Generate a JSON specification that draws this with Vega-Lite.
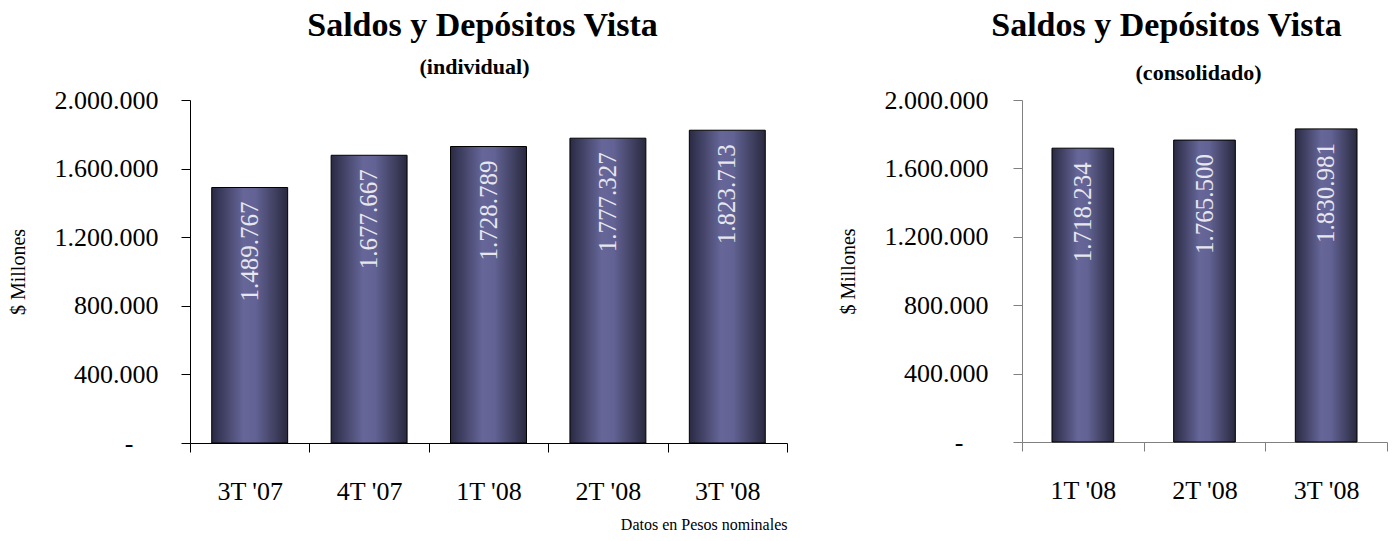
{
  "$schema": "https://vega.github.io/schema/vega-lite/v6.json",
  "background": "white",
  "padding": {"left": 8, "top": 9, "right": 5, "bottom": 5},
  "bounds": "flush",
  "spacing": 235,
  "config": {
    "locale": {"number": {"decimal": ",", "thousands": ".", "grouping": [3], "currency": ["$", ""]}},
    "view": {"stroke": null},
    "font": "Liberation Serif"
  },
  "datasets": {
    "individual": [
      {"periodo": "3T '07", "saldo": 1489767},
      {"periodo": "4T '07", "saldo": 1677667},
      {"periodo": "1T '08", "saldo": 1728789},
      {"periodo": "2T '08", "saldo": 1777327},
      {"periodo": "3T '08", "saldo": 1823713}
    ],
    "consolidado": [
      {"periodo": "1T '08", "saldo": 1718234},
      {"periodo": "2T '08", "saldo": 1765500},
      {"periodo": "3T '08", "saldo": 1830981}
    ]
  },
  "hconcat": [
    {
      "width": 597,
      "height": 343,
      "data": {"name": "individual"},
      "title": {
        "text": "Saldos y Depósitos Vista",
        "subtitle": "(individual)\u2800",
        "font": "Liberation Serif",
        "subtitleFont": "Liberation Serif",
        "fontSize": 34,
        "subtitleFontSize": 22,
        "fontWeight": "bold",
        "subtitleFontWeight": "bold",
        "color": "black",
        "subtitleColor": "black",
        "anchor": "middle",
        "dx": -6,
        "offset": 9,
        "subtitlePadding": 14
      },
      "encoding": {
        "x": {
          "field": "periodo",
          "type": "nominal",
          "sort": null,
          "scale": {"paddingInner": 0, "paddingOuter": 0},
          "axis": {
            "labelAngle": 0,
            "labelFont": "Liberation Serif",
            "labelFontSize": 26,
            "labelColor": "black",
            "labelPadding": 26,
            "tickSize": 9,
            "tickBand": "extent",
            "tickColor": "black",
            "domainColor": "black",
            "title": "Datos en Pesos nominales",
            "titleFont": "Liberation Serif",
            "titleFontSize": 16,
            "titleFontWeight": "normal",
            "titleColor": "black",
            "titleAnchor": "end",
            "titlePadding": 12
          }
        },
        "y": {
          "field": "saldo",
          "type": "quantitative",
          "scale": {"domain": [0, 2000000], "nice": false},
          "axis": {
            "values": [0, 400000, 800000, 1200000, 1600000, 2000000],
            "format": ",.0f",
            "labelExpr": "datum.value == 0 ? '-' : datum.label",
            "labelFont": "Liberation Serif",
            "labelFontSize": 26,
            "labelColor": "black",
            "labelPadding": {"condition": {"test": "datum.value == 0", "value": 48}, "value": 23},
            "tickSize": 9,
            "tickColor": "black",
            "domainColor": "black",
            "grid": false,
            "title": "$ Millones",
            "titleFont": "Liberation Serif",
            "titleFontSize": 20,
            "titleFontWeight": "normal",
            "titleColor": "black",
            "titlePadding": 26
          }
        }
      },
      "layer": [
        {
          "mark": {
            "type": "bar",
            "width": {"band": 0.636},
            "fill": {"gradient": "linear", "x1": 0, "x2": 1, "y1": 0, "y2": 0,
              "stops": [
                {"offset": 0, "color": "#2a2a44"},
                {"offset": 0.42, "color": "#666699"},
                {"offset": 0.58, "color": "#626294"},
                {"offset": 1, "color": "#29293f"}
              ]},
            "stroke": "black",
            "strokeWidth": 1
          }
        },
        {
          "mark": {"type": "text", "angle": 270, "align": "right", "baseline": "middle", "dx": -14, "fontSize": 25, "font": "Liberation Serif", "color": "#e6e6ee"},
          "encoding": {"text": {"field": "saldo", "type": "quantitative", "format": ",.0f"}}
        }
      ]
    },
    {
      "width": 365,
      "height": 342,
      "data": {"name": "consolidado"},
      "title": {
        "text": "Saldos y Depósitos Vista",
        "subtitle": "\u2800\u2800\u2800\u2800(consolidado)",
        "font": "Liberation Serif",
        "subtitleFont": "Liberation Serif",
        "fontSize": 34,
        "subtitleFontSize": 22,
        "fontWeight": "bold",
        "subtitleFontWeight": "bold",
        "color": "black",
        "subtitleColor": "black",
        "anchor": "middle",
        "dx": -38,
        "offset": 3,
        "subtitlePadding": 20
      },
      "encoding": {
        "x": {
          "field": "periodo",
          "type": "nominal",
          "sort": null,
          "scale": {"paddingInner": 0, "paddingOuter": 0},
          "axis": {
            "labelAngle": 0,
            "labelFont": "Liberation Serif",
            "labelFontSize": 26,
            "labelColor": "black",
            "labelPadding": 26,
            "tickSize": 9,
            "tickBand": "extent",
            "tickColor": "#808080",
            "domainColor": "#808080",
            "title": null
          }
        },
        "y": {
          "field": "saldo",
          "type": "quantitative",
          "scale": {"domain": [0, 2000000], "nice": false},
          "axis": {
            "values": [0, 400000, 800000, 1200000, 1600000, 2000000],
            "format": ",.0f",
            "labelExpr": "datum.value == 0 ? '-' : datum.label",
            "labelFont": "Liberation Serif",
            "labelFontSize": 26,
            "labelColor": "black",
            "labelPadding": {"condition": {"test": "datum.value == 0", "value": 50}, "value": 25},
            "tickSize": 9,
            "tickColor": "#808080",
            "domainColor": "#808080",
            "grid": false,
            "title": "$ Millones",
            "titleFont": "Liberation Serif",
            "titleFontSize": 20,
            "titleFontWeight": "normal",
            "titleColor": "black",
            "titlePadding": 26
          }
        }
      },
      "layer": [
        {
          "mark": {
            "type": "bar",
            "width": {"band": 0.507},
            "fill": {"gradient": "linear", "x1": 0, "x2": 1, "y1": 0, "y2": 0,
              "stops": [
                {"offset": 0, "color": "#2a2a44"},
                {"offset": 0.42, "color": "#666699"},
                {"offset": 0.58, "color": "#626294"},
                {"offset": 1, "color": "#29293f"}
              ]},
            "stroke": "black",
            "strokeWidth": 1
          }
        },
        {
          "mark": {"type": "text", "angle": 270, "align": "right", "baseline": "middle", "dx": -14, "fontSize": 25, "font": "Liberation Serif", "color": "#e6e6ee"},
          "encoding": {"text": {"field": "saldo", "type": "quantitative", "format": ",.0f"}}
        }
      ]
    }
  ]
}
